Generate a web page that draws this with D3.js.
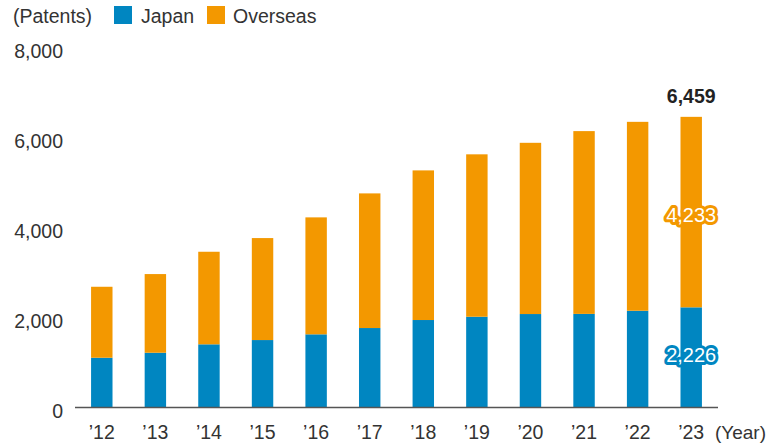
<!DOCTYPE html>
<html>
<head>
<meta charset="utf-8">
<script src="https://cdn.jsdelivr.net/npm/d3@7"></script>
<style>
  body { margin: 0; background: #fff; }
  svg text { font-family: "Liberation Sans", Arial, sans-serif; fill: #333; }
</style>
</head>
<body>
<svg id="chart" width="768" height="443"></svg>
<script>
/***************************************************************
    Data
****************************************************************/
const years = ["\u201912", "\u201913", "\u201914", "\u201915", "\u201916", "\u201917", "\u201918", "\u201919", "\u201920", "\u201921", "\u201922", "\u201923"];
const japan = [1106, 1217, 1404, 1499, 1626, 1766, 1944, 2017, 2077, 2080, 2150, 2226];
const overseas = [1577, 1748, 2057, 2266, 2599, 2992, 3325, 3609, 3805, 4062, 4198, 4233];
const yTicks = [0, 2000, 4000, 6000, 8000];

const blue = "#0086c1";
const orange = "#f39800";

/***************************************************************
    Scales
****************************************************************/
const svg = d3.select("#chart");

const x = d3.scaleBand().domain(years).range([75, 718]).paddingInner(0.6).paddingOuter(0.3);
const y = d3.scaleLinear().domain([0, 8000]).range([407.5, 47.5]);

const rows = years.map((yr, i) => ({ yr: yr, japan: japan[i], overseas: overseas[i] }));
const stacked = d3.stack().keys(["japan", "overseas"])(rows);
const colors = { japan: blue, overseas: orange };

/***************************************************************
    Bars
****************************************************************/
svg.append("g").selectAll("g").data(stacked).enter().append("g")
    .attr("fill", d => colors[d.key])
    .selectAll("rect").data(d => d).enter().append("rect")
    .attr("x", d => x(d.data.yr))
    .attr("width", x.bandwidth())
    .attr("y", d => y(d[1]))
    .attr("height", d => y(d[0]) - y(d[1]));

/***************************************************************
    Axes
****************************************************************/
svg.append("line")
    .attr("x1", 75).attr("x2", 718)
    .attr("y1", y(0)).attr("y2", y(0))
    .attr("stroke", "#555").attr("stroke-width", 1.5);

svg.append("g").selectAll("text").data(yTicks).enter().append("text")
    .attr("x", 63)
    .attr("y", d => y(d) + 10)
    .attr("text-anchor", "end")
    .attr("font-size", 19.5)
    .text(d => d3.format(",")(d));

svg.append("g").selectAll("text").data(years).enter().append("text")
    .attr("x", d => x(d) + x.bandwidth() / 2)
    .attr("y", 439)
    .attr("text-anchor", "middle")
    .attr("font-size", 19.5)
    .text(d => d);

svg.append("text").attr("x", 766).attr("y", 439)
    .attr("text-anchor", "end").attr("font-size", 19).text("(Year)");

/***************************************************************
    Legend
****************************************************************/
svg.append("text").attr("x", 13).attr("y", 23).attr("font-size", 19.5).text("(Patents)");
svg.append("rect").attr("x", 114).attr("y", 6).attr("width", 18).attr("height", 18).attr("fill", blue);
svg.append("text").attr("x", 141).attr("y", 23).attr("font-size", 19.5).text("Japan");
svg.append("rect").attr("x", 207).attr("y", 6).attr("width", 18).attr("height", 18).attr("fill", orange);
svg.append("text").attr("x", 233).attr("y", 23).attr("font-size", 19.5).text("Overseas");

/***************************************************************
    Value labels on the last bar
****************************************************************/
const last = years.length - 1;
const cx = x(years[last]) + x.bandwidth() / 2;
const total = japan[last] + overseas[last];

svg.append("text")
    .attr("x", cx).attr("y", y(total) - 14)
    .attr("text-anchor", "middle")
    .attr("font-size", 19.5).attr("font-weight", "bold")
    .style("fill", "#222")
    .text(d3.format(",")(total));

function outlinedLabel(value, yPos, color) {
    const g = svg.append("g");
    g.append("text")
        .attr("x", cx).attr("y", yPos)
        .attr("text-anchor", "middle").attr("font-size", 20)
        .style("fill", color).attr("stroke", color)
        .attr("stroke-width", 6).attr("stroke-linejoin", "round")
        .text(d3.format(",")(value));
    g.append("text")
        .attr("x", cx).attr("y", yPos)
        .attr("text-anchor", "middle").attr("font-size", 20)
        .style("fill", "#fff")
        .text(d3.format(",")(value));
}

outlinedLabel(overseas[last], 222, orange);
outlinedLabel(japan[last], 362, blue);
</script>
</body>
</html>
